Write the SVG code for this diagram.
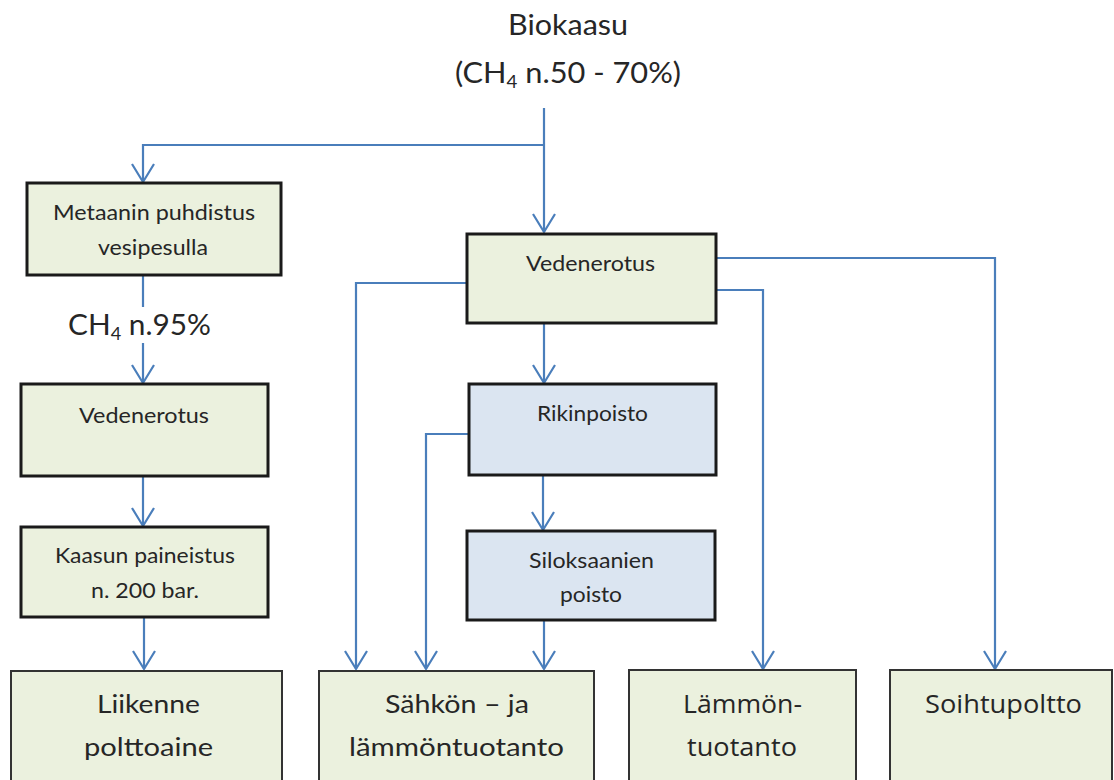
<svg xmlns="http://www.w3.org/2000/svg" width="1114" height="780" viewBox="0 0 1114 780">
<style>
.top{fill:#EBF1DE;stroke:#1a1a1a;stroke-width:3}
.blue{fill:#DBE5F1;stroke:#1a1a1a;stroke-width:3}
.bot{fill:#EBF1DE;stroke:#333;stroke-width:2}
.t{font-family:Lato,"Liberation Sans",sans-serif;fill:#262626}
.s{font-size:21px}
.b{font-size:25px}
.h{font-size:28px}
.o{font-family:"Open Sans","DejaVu Sans",sans-serif;font-size:26px;fill:#262626}
.c{fill:none;stroke:#4A7EBB;stroke-width:2.2}
</style>
<defs>
<marker id="arr" markerUnits="userSpaceOnUse" markerWidth="30" markerHeight="30" viewBox="-20 -15 30 30" refX="0" refY="0" orient="auto" overflow="visible">
<path d="M-18,-11 L0,0 L-18,11" fill="none" stroke="#4A7EBB" stroke-width="2.2"/>
</marker>
</defs>
<g id="title">
<text class="t h" x="508" y="35" textLength="120" lengthAdjust="spacingAndGlyphs">Biokaasu</text>
<text class="t h" x="455" y="83" textLength="226" lengthAdjust="spacingAndGlyphs">(CH<tspan font-size="17" dy="5">4</tspan><tspan dy="-5"> n.50 - 70%)</tspan></text>
</g>
<g id="connectors">
<path class="c" d="M544,108 V232" marker-end="url(#arr)"/>
<path class="c" d="M544,145 H143 V182" marker-end="url(#arr)"/>
<path class="c" d="M143,275 V307"/>
<path class="c" d="M143,343 V383" marker-end="url(#arr)"/>
<path class="c" d="M143,476 V526" marker-end="url(#arr)"/>
<path class="c" d="M144,617 V669" marker-end="url(#arr)"/>
<path class="c" d="M467,283 H356 V669" marker-end="url(#arr)"/>
<path class="c" d="M544,323 V383" marker-end="url(#arr)"/>
<path class="c" d="M469,434 H426 V669" marker-end="url(#arr)"/>
<path class="c" d="M543,475 V530" marker-end="url(#arr)"/>
<path class="c" d="M544,620 V669" marker-end="url(#arr)"/>
<path class="c" d="M716,290 H763 V669" marker-end="url(#arr)"/>
<path class="c" d="M716,258 H995 V669" marker-end="url(#arr)"/>
</g>
<g id="ch4label">
<text class="t h" x="68" y="335" textLength="143" lengthAdjust="spacingAndGlyphs">CH<tspan font-size="17" dy="5">4</tspan><tspan dy="-5"> n.95%</tspan></text>
</g>
<g id="metaanin">
<rect class="top" x="27" y="183" width="254" height="92"/>
<text class="t s" x="53" y="220" textLength="202" lengthAdjust="spacingAndGlyphs">Metaanin puhdistus</text>
<text class="t s" x="98" y="255" textLength="110" lengthAdjust="spacingAndGlyphs">vesipesulla</text>
</g>
<g id="vedenerotus1">
<rect class="top" x="21" y="384" width="247" height="92"/>
<text class="t s" x="79" y="423" textLength="130" lengthAdjust="spacingAndGlyphs">Vedenerotus</text>
</g>
<g id="kaasun">
<rect class="top" x="21" y="527" width="247" height="90"/>
<text class="t s" x="55" y="563" textLength="180" lengthAdjust="spacingAndGlyphs">Kaasun paineistus</text>
<text class="t s" x="91" y="598" textLength="108" lengthAdjust="spacingAndGlyphs">n. 200 bar.</text>
</g>
<g id="liikenne">
<rect class="bot" x="11" y="671" width="271" height="125"/>
<text class="t b" x="97" y="713" textLength="103" lengthAdjust="spacingAndGlyphs">Liikenne</text>
<text class="t b" x="84" y="756" textLength="129" lengthAdjust="spacingAndGlyphs">polttoaine</text>
</g>
<g id="vedenerotus2">
<rect class="top" x="467" y="234" width="249" height="89"/>
<text class="t s" x="526" y="271" textLength="129" lengthAdjust="spacingAndGlyphs">Vedenerotus</text>
</g>
<g id="rikinpoisto">
<rect class="blue" x="469" y="384" width="247" height="91"/>
<text class="t s" x="537" y="421" textLength="111" lengthAdjust="spacingAndGlyphs">Rikinpoisto</text>
</g>
<g id="siloksaanien">
<rect class="blue" x="467" y="531" width="248" height="89"/>
<text class="t s" x="529" y="568" textLength="125" lengthAdjust="spacingAndGlyphs">Siloksaanien</text>
<text class="t s" x="560" y="602" textLength="62" lengthAdjust="spacingAndGlyphs">poisto</text>
</g>
<g id="sahkon">
<rect class="bot" x="319" y="671" width="275" height="125"/>
<text class="t b" x="385" y="713" textLength="144" lengthAdjust="spacingAndGlyphs">Sähkön – ja</text>
<text class="t b" x="349" y="756" textLength="215" lengthAdjust="spacingAndGlyphs">lämmöntuotanto</text>
</g>
<g id="lammon">
<rect class="bot" x="629" y="670" width="227" height="125"/>
<text class="o" x="683" y="713" textLength="119" lengthAdjust="spacingAndGlyphs">Lämmön-</text>
<text class="o" x="687" y="756" textLength="110" lengthAdjust="spacingAndGlyphs">tuotanto</text>
</g>
<g id="soihtupoltto">
<rect class="bot" x="890" y="670" width="222" height="125"/>
<text class="o" x="925" y="713" textLength="157" lengthAdjust="spacingAndGlyphs">Soihtupoltto</text>
</g>
</svg>
